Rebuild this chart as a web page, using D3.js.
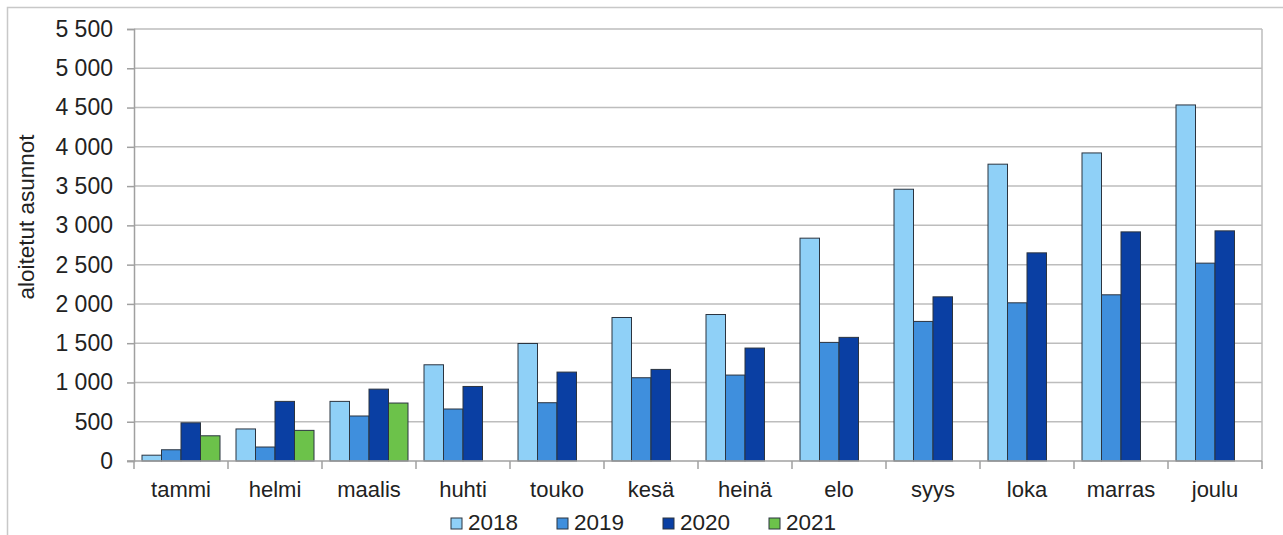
<!DOCTYPE html>
<html>
<head>
<meta charset="utf-8">
<script src="https://cdn.jsdelivr.net/npm/d3@7"></script>
<style>
    body { margin: 0; background: #fff; }
    svg { display: block; font-family: 'Liberation Sans', Arial, sans-serif; }
</style>
</head>
<body>
<script>
// Aloitetut asunnot kuukausittain, 2018-2021
const months = ['tammi', 'helmi', 'maalis', 'huhti', 'touko', 'kesä', 'heinä', 'elo', 'syys', 'loka', 'marras', 'joulu'];
const years = ['2018', '2019', '2020', '2021'];
const v2018 = [74, 408, 759, 1225, 1496, 1827, 1865, 2837, 3460, 3779, 3922, 4533];
const v2019 = [143, 178, 573, 662, 742, 1060, 1094, 1510, 1777, 2014, 2116, 2519];
const v2020 = [486, 759, 915, 949, 1132, 1166, 1438, 1574, 2090, 2650, 2917, 2930];
const v2021 = [321, 390, 738];
const yTicks = [0, 500, 1000, 1500, 2000, 2500, 3000, 3500, 4000, 4500, 5000, 5500];
const colors = ['#8fd0f7', '#3f8fdd', '#0a3fa3', '#6cc24a'];

let width = 1283;
let height = 535;
// plot area edges (note: 'top' is taken by window.top)
let plotLeft = 134, plotRight = 1262, plotTop = 29, plotBottom = 461;

let series = [v2018, v2019, v2020, v2021];
// one record per bar, empty months of 2021 are just skipped
let bars = [];
series.forEach(function(vals, s) {
    vals.forEach(function(v, m) {
        bars.push({month: months[m], year: years[s], value: v, color: colors[s]});
    });
});

let svg = d3.select('body').append('svg')
    .attr('width', width)
    .attr('height', height);

// light frame round the chart
svg.append('path')
    .attr('d', 'M7.5,535 V7.5 H1283')
    .style('fill', 'none')
    .style('stroke', '#c8c8c8')
    .style('stroke-width', 1.5);

let x = d3.scaleBand().domain(months).range([plotLeft, plotRight]);
let xInner = d3.scaleBand().domain(years).range([8, x.bandwidth() - 8]);
let y = d3.scaleLinear().domain([0, 5500]).range([plotBottom, plotTop]);

let fi = d3.formatLocale({decimal: ',', thousands: ' ', grouping: [3], currency: ['', '']});

// grid lines
svg.append('g')
    .selectAll('line')
    .data(yTicks.slice(1))
    .join('line')
        .attr('x1', plotLeft)
        .attr('x2', plotRight)
        .attr('y1', (d) => y(d))
        .attr('y2', (d) => y(d))
        .style('stroke', '#bdbdbd')
        .style('stroke-width', 1.5);

svg.append('line')
    .attr('x1', plotRight).attr('x2', plotRight)
    .attr('y1', plotTop).attr('y2', plotBottom)
    .style('stroke', '#bdbdbd')
    .style('stroke-width', 1.5);

// bars
svg.append('g')
    .selectAll('rect')
    .data(bars)
    .join('rect')
        .attr('x', (d) => x(d.month) + xInner(d.year))
        .attr('y', (d) => y(d.value))
        .attr('width', xInner.bandwidth())
        .attr('height', (d) => y(0) - y(d.value))
        .style('fill', (d) => d.color)
        .style('stroke', '#2b3440')
        .style('stroke-width', 1);

// y axis
let yAxis = svg.append('g')
    .attr('transform', 'translate(' + plotLeft + ',0)')
    .call(d3.axisLeft(y).tickValues(yTicks).tickFormat(fi.format(',d')).tickSize(7).tickPadding(14));
yAxis.select('.domain').style('stroke', '#a0a0a0').style('stroke-width', 1.5);
yAxis.selectAll('.tick line').style('stroke', '#a0a0a0').style('stroke-width', 1.5);
yAxis.selectAll('text')
    .style('font-size', '23px')
    .style('fill', '#222')
    .style('font-family', "'Liberation Sans', Arial, sans-serif");

// x axis, ticks sit between the months
let xAxis = svg.append('g')
    .attr('transform', 'translate(0,' + plotBottom + ')');
xAxis.append('line')
    .attr('x1', plotLeft - 7).attr('x2', plotRight)
    .style('stroke', '#a0a0a0')
    .style('stroke-width', 1.5);
xAxis.selectAll('.sep')
    .data(months.concat(['end']))
    .join('line')
        .attr('class', 'sep')
        .attr('x1', (d, i) => plotLeft + i * x.bandwidth())
        .attr('x2', (d, i) => plotLeft + i * x.bandwidth())
        .attr('y1', 0)
        .attr('y2', 8)
        .style('stroke', '#a0a0a0')
        .style('stroke-width', 1.5);
xAxis.selectAll('.lbl')
    .data(months)
    .join('text')
        .attr('class', 'lbl')
        .attr('x', (d) => x(d) + x.bandwidth() / 2)
        .attr('y', 36)
        .attr('text-anchor', 'middle')
        .style('font-size', '22px')
        .style('fill', '#222')
        .text((d) => d);

// y axis title
svg.append('text')
    .attr('transform', 'translate(34,' + ((plotTop + plotBottom) / 2 - 28) + ') rotate(-90)')
    .attr('text-anchor', 'middle')
    .style('font-size', '22.5px')
    .style('fill', '#222')
    .text('aloitetut asunnot');

// legend
let legend = svg.append('g')
    .selectAll('g')
    .data(years)
    .join('g')
        .attr('transform', (d, i) => 'translate(' + (451 + i * 106) + ',518)');
legend.append('rect')
    .attr('width', 11)
    .attr('height', 11)
    .style('fill', (d, i) => colors[i])
    .style('stroke', '#2b3440')
    .style('stroke-width', 1);
legend.append('text')
    .attr('x', 17)
    .attr('y', 12)
    .style('font-size', '22.5px')
    .style('fill', '#222')
    .text((d) => d);
</script>
</body>
</html>
